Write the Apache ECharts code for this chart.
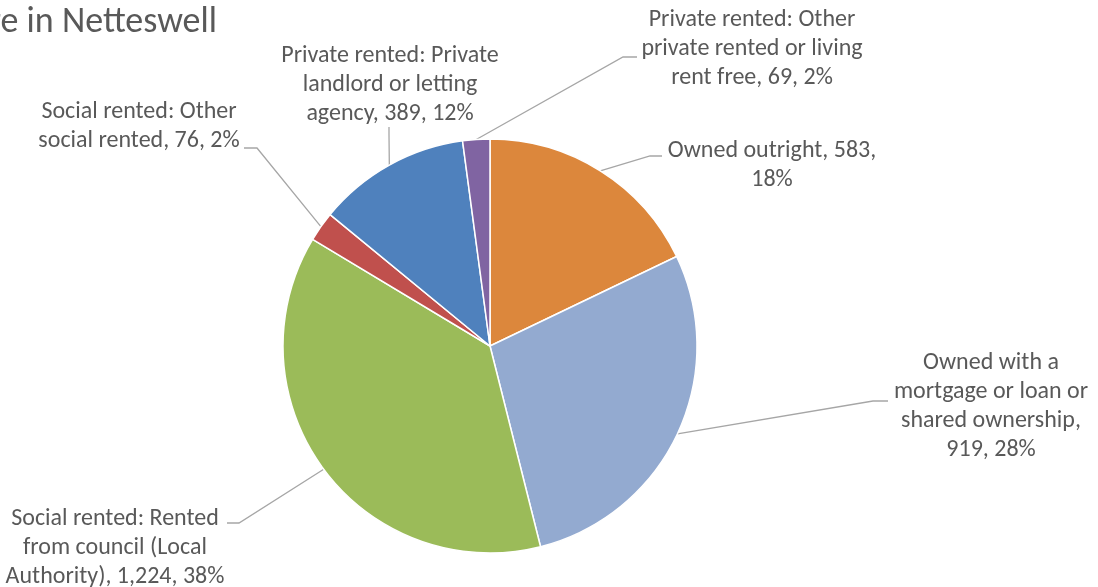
<!DOCTYPE html>
<html>
<head>
<meta charset="utf-8">
<title>Tenure in Netteswell</title>
<script src="https://cdn.jsdelivr.net/npm/echarts@6/dist/echarts.min.js"></script>
<style>
    html, body { margin: 0; padding: 0; background: #ffffff; }
    #chart { width: 1098px; height: 587px; }
</style>
</head>
<body>
<div id="chart"></div>
<script>
// data
var categories = [
    'Owned outright',
    'Owned with a mortgage or loan or shared ownership',
    'Social rented: Rented from council (Local Authority)',
    'Social rented: Other social rented',
    'Private rented: Private landlord or letting agency',
    'Private rented: Other private rented or living rent free'
];
var households = [583, 919, 1224, 76, 389, 69];
var sliceColors = ['#dc873c', '#93aad0', '#9bbb59', '#c0504d', '#4f81bd', '#8064a2'];

// how many words go on each line of a label (Excel wraps them this way)
var lineWords = [[3, 1], [3, 4, 2, 2], [3, 3, 3], [3, 4], [3, 3, 3], [3, 4, 4]];
// label centre, leader bend and leader end for each slice
var labelSpots = [
    { x: 772, y: 165, bend: [650, 156], end: [662, 156] },
    { x: 991, y: 406, bend: [873, 401], end: [888, 401] },
    { x: 115, y: 548, bend: [239, 523], end: [227, 523] },
    { x: 139, y: 126, bend: [257, 148], end: [244, 148] },
    { x: 390, y: 85, bend: [389, 135], end: [389, 127] },
    { x: 752, y: 49, bend: [623, 57], end: [637, 57] }
];

var FONT = 'Carlito, "Open Sans", sans-serif';

var chart = echarts.init(document.getElementById('chart'));

chart.setOption({
    animation: false,
    color: sliceColors,
    graphic: [{
        type: 'text',
        x: 217,
        y: 23,
        style: {
            text: 'Tenure in Netteswell',
            fill: '#595959',
            font: '36px ' + FONT,
            align: 'right',
            verticalAlign: 'middle'
        }
    }],
    series: [{
        type: 'pie',
        center: [490, 346],
        radius: 207,
        startAngle: 90,
        clockwise: true,
        avoidLabelOverlap: false,
        data: categories.map(function (name, i) {
            return { name: name, value: households[i] };
        }),
        itemStyle: {
            borderColor: '#ffffff',
            borderWidth: 1.5
        },
        label: {
            show: true,
            color: '#595959',
            fontFamily: FONT,
            fontSize: 24,
            lineHeight: 29,
            align: 'center',
            formatter: function (p) {
                var words = (p.name + ', ' + p.value.toLocaleString('en-US') + ', ' +
                    Math.round(p.percent) + '%').split(' ');
                var lines = [], k = 0;
                lineWords[p.dataIndex].forEach(function (n) {
                    lines.push(words.slice(k, k + n).join(' '));
                    k += n;
                });
                return lines.join('\n');
            }
        },
        labelLine: {
            show: true,
            length: 20,
            length2: 10,
            lineStyle: { color: '#a6a6a6', width: 1.3 }
        },
        labelLayout: function (p) {
            var s = labelSpots[p.dataIndex];
            var start = p.labelLinePoints ? p.labelLinePoints[0] : s.bend;
            return {
                x: s.x,
                y: s.y,
                align: 'center',
                verticalAlign: 'middle',
                labelLinePoints: [start, s.bend, s.end]
            };
        }
    }]
});
</script>
</body>
</html>
